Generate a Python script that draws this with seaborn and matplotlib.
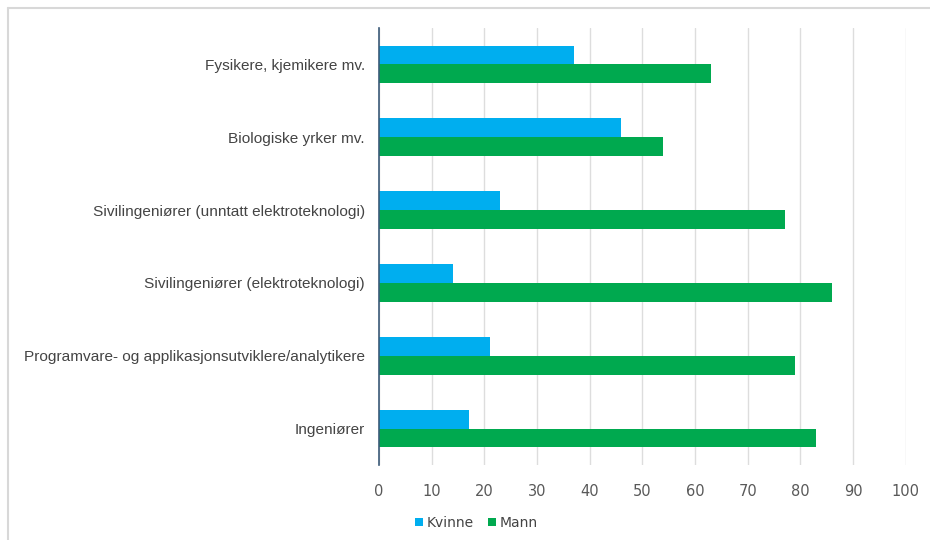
import pandas as pd
import numpy as np
import seaborn as sns
import matplotlib.pyplot as plt
from matplotlib.lines import Line2D

# Data (percent)
categories = [
    'Fysikere, kjemikere mv.',
    'Biologiske yrker mv.',
    'Sivilingeniører (unntatt elektroteknologi)',
    'Sivilingeniører (elektroteknologi)',
    'Programvare- og applikasjonsutviklere/analytikere',
    'Ingeniører',
]
kvinne = [37, 46, 23, 14, 21, 17]
mann = [63, 54, 77, 86, 79, 83]
x_ticks = [0, 10, 20, 30, 40, 50, 60, 70, 80, 90, 100]

df = pd.DataFrame({
    'Yrke': categories * 2,
    'Andel': kvinne + mann,
    'Kjønn': ['Kvinne'] * len(categories) + ['Mann'] * len(categories),
})

sns.set_style('white')
plt.rcParams['font.family'] = ['DejaVu Sans']

fig = plt.figure(figsize=(9.3, 5.4), dpi=100)
ax = fig.add_axes([0.4075, 0.139, 0.5665, 0.809])

sns.barplot(data=df, y='Yrke', x='Andel', hue='Kjønn', orient='h',
            palette={'Kvinne': '#00AEEF', 'Mann': '#00A94F'},
            width=0.52, ax=ax, saturation=1, linewidth=0, legend=True)

ax.set_xlim(0, 100)
ax.set_ylim(len(categories) - 0.5, -0.5)
ax.set_xticks(x_ticks)
ax.set_xticklabels([str(t) for t in x_ticks], fontsize=10.5, color='#595959')
ax.tick_params(axis='y', length=0, pad=10)
for lbl in ax.get_yticklabels():
    lbl.set_fontfamily(['Liberation Sans', 'DejaVu Sans'])
    lbl.set_fontsize(11.1)
    lbl.set_color('#444444')
ax.tick_params(axis='x', length=0, pad=14)
ax.set_xlabel('')
ax.set_ylabel('')

ax.grid(axis='x', color='#dddddd', linewidth=1)
ax.set_axisbelow(True)
for side in ['top', 'right', 'bottom']:
    ax.spines[side].set_visible(False)
ax.spines['left'].set_color('#3b5a78')
ax.spines['left'].set_linewidth(1.2)

leg = ax.legend(loc='upper left', bbox_to_anchor=(0.045, -0.088), ncol=2, frameon=False,
                fontsize=10, handlelength=0.55, handleheight=0.55,
                handletextpad=0.3, columnspacing=1.0)
for t in leg.get_texts():
    t.set_color('#444444')

# outer frame of the original picture (top and left edges)
fig.add_artist(Line2D([0.009, 1.0], [0.985, 0.985], transform=fig.transFigure,
                      color='#d8d8d8', linewidth=1.5))
fig.add_artist(Line2D([0.009, 0.009], [0.0, 0.985], transform=fig.transFigure,
                      color='#d8d8d8', linewidth=1.5))

plt.savefig('out.png', dpi=100)
plt.close()
